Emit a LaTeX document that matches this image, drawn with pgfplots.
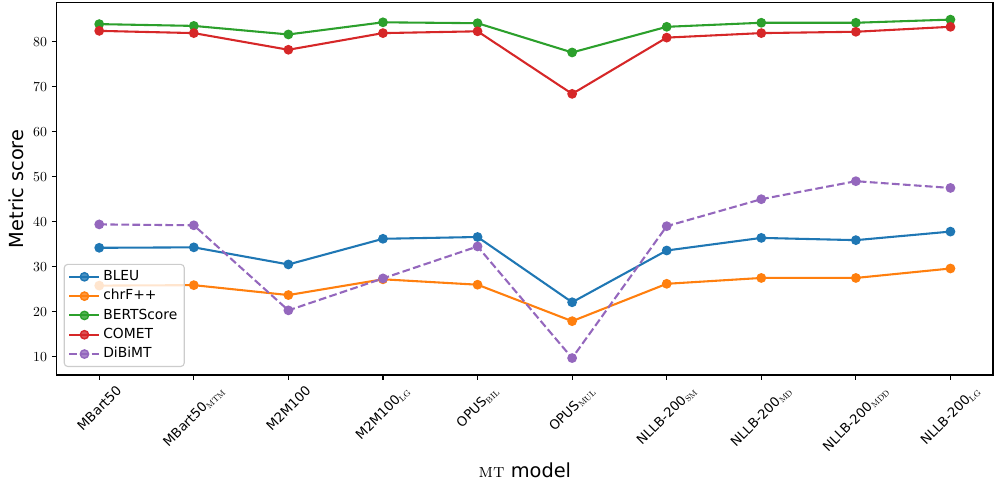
\documentclass[border=0pt]{standalone}
\usepackage{fontspec}
\setsansfont{DejaVu Sans}
\usepackage{graphicx}
\usepackage{pgfplots}
\pgfplotsset{compat=1.18}
\definecolor{c0}{HTML}{1F77B4}
\definecolor{c1}{HTML}{FF7F0E}
\definecolor{c2}{HTML}{2CA02C}
\definecolor{c3}{HTML}{D62728}
\definecolor{c4}{HTML}{9467BD}
\newcommand{\sub}[1]{\raisebox{-0.3ex}{\rmfamily\fontsize{8}{9}\selectfont\textsc{#1}}}
\newcommand{\rl}[1]{\rotatebox{45}{#1}}
\begin{document}
\begin{tikzpicture}
\begin{axis}[name=ax, scale only axis, width=674.1bp, height=268.1bp,
  xmin=-0.45, xmax=9.45, ymin=5.93, ymax=88.67,
  xtick={0,...,9},
  xticklabels={{\rl{MBart50}},{\rl{MBart50\sub{mtm}}},{\rl{M2M100}},{\rl{M2M100\sub{lg}}},{\rl{OPUS\sub{bil}}},{\rl{OPUS\sub{mul}}},{\rl{NLLB-200\sub{sm}}},{\rl{NLLB-200\sub{md}}},{\rl{NLLB-200\sub{mdd}}},{\rl{NLLB-200\sub{lg}}}},
  ytick={10,20,...,80},
  tick align=outside, xtick pos=left, ytick pos=left,
  major tick length=3.5bp,
  axis line style={line width=0.8bp},
  every tick/.style={black, line width=0.8bp},
  yticklabel style={font=\fontsize{10}{12}\selectfont},
  xticklabel style={font=\sffamily\fontsize{9.5}{11}\selectfont, anchor=north},
  xlabel={\textsc{mt} {\sffamily model}},
  ylabel={\sffamily Metric score},
  label style={font=\fontsize{14}{16}\selectfont},
  every axis plot/.append style={line width=1.5bp, mark=*, mark size=3bp, mark options={solid, line width=1bp}},
  legend style={at={(0.0075,0.0215)}, anchor=south west, draw=black!20, line width=0.8bp,
    rounded corners=2.5bp, fill=white, fill opacity=0.8, text opacity=1,
    font=\sffamily\fontsize{10}{12}\selectfont, row sep=0pt,
    nodes={text height=7.5bp, text depth=2bp, inner ysep=2.2bp}},
  legend cell align=left,
  legend image code/.code={\draw[mark repeat=2,mark phase=2] plot coordinates {(0bp,0bp)(10.8bp,0bp)(21.6bp,0bp)};},
]
\addplot[c0] coordinates {(0,34.2)(1,34.3)(2,30.5)(3,36.2)(4,36.6)(5,22.1)(6,33.6)(7,36.4)(8,35.9)(9,37.8)};
\addlegendentry{BLEU}
\addplot[c1] coordinates {(0,25.8)(1,25.9)(2,23.7)(3,27.2)(4,26.0)(5,17.9)(6,26.2)(7,27.5)(8,27.5)(9,29.6)};
\addlegendentry{chrF++}
\addplot[c2] coordinates {(0,83.9)(1,83.5)(2,81.6)(3,84.3)(4,84.1)(5,77.6)(6,83.3)(7,84.2)(8,84.2)(9,84.9)};
\addlegendentry{BERTScore}
\addplot[c3] coordinates {(0,82.4)(1,81.9)(2,78.2)(3,81.9)(4,82.3)(5,68.4)(6,80.9)(7,81.9)(8,82.2)(9,83.3)};
\addlegendentry{COMET}
\addplot[c4, dash pattern=on 5.55bp off 2.4bp] coordinates {(0,39.4)(1,39.2)(2,20.3)(3,27.4)(4,34.5)(5,9.7)(6,39.0)(7,45.0)(8,49.0)(9,47.5)};
\addlegendentry{DiBiMT}
\end{axis}
\pgfresetboundingbox
\path[use as bounding box] ([xshift=-40.8bp,yshift=-76.3bp]ax.south west) rectangle ([xshift=3.6bp,yshift=1.9bp]ax.north east);
\end{tikzpicture}
\end{document}
